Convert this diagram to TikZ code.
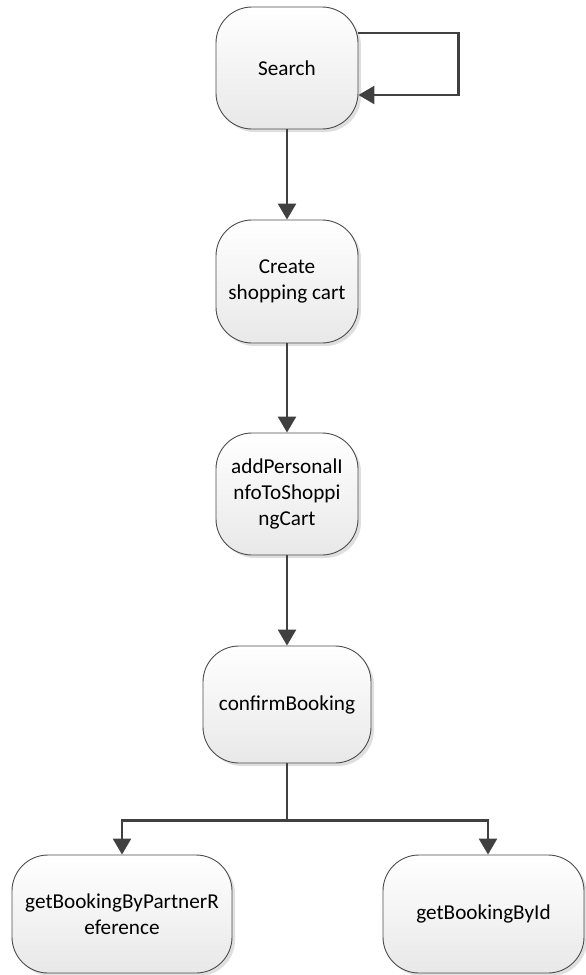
\documentclass[tikz,border=0pt]{standalone}
\usepackage{fontspec}
\setmainfont{Carlito}
\usetikzlibrary{arrows.meta,shadows}
\begin{document}
\begin{tikzpicture}[x=1pt,y=-1pt,
 box/.style={rectangle, rounded corners=36pt, draw=black!70, line width=0.9pt,
   top color=white, bottom color=black!9, align=center,
   font=\fontsize{21.2}{25.8}\selectfont, inner sep=0pt,
   drop shadow={shadow xshift=3pt, shadow yshift=-3pt, fill=black!25, opacity=0.5}},
 conn/.style={draw=black!75, line width=2.6pt, -{Triangle[width=18pt,length=16pt]}}
]
\useasboundingbox (0,0) rectangle (586,975);
\node[box, minimum width=142pt, minimum height=122pt] (S) at (287,68) {Search};
\node[box, minimum width=142pt, minimum height=123pt] (C) at (287,281.5) {Create\\shopping cart};
\node[box, minimum width=142pt, minimum height=122pt] (A) at (287,494) {addPersonalI\\nfoToShoppi\\ngCart};
\node[box, minimum width=168pt, minimum height=117pt] (B) at (287,704.5) {confirmBooking};
\node[box, minimum width=220pt, minimum height=118pt] (L) at (122,914) {getBookingByPartnerR\\eference};
\node[box, minimum width=201pt, minimum height=118pt] (R) at (483.5,914) {getBookingById};

\draw[conn] ([yshift=35pt]S.east) -- ++(100,0) |- ([yshift=-27pt]S.east);
\draw[conn] (S) -- (C);
\draw[conn] (C) -- (A);
\draw[conn] (A) -- (B);
\draw[conn] (B.south) -- ++(0,57) -| (L.north);
\draw[conn] (B.south) -- ++(0,57) -| ([xshift=4.5pt]R.north);
\end{tikzpicture}
\end{document}
